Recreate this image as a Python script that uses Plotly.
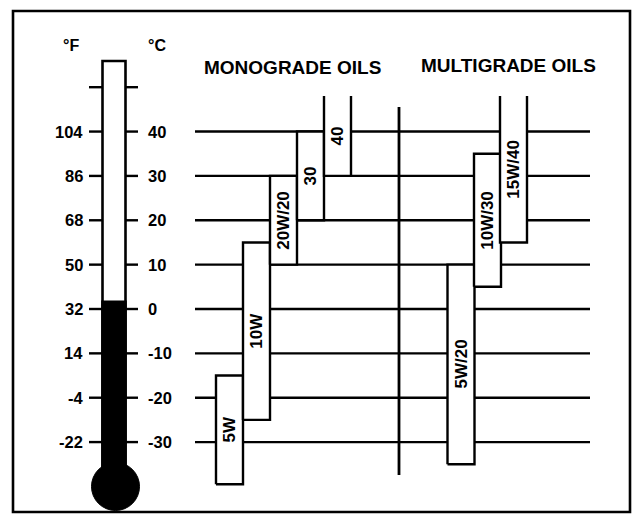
import plotly.graph_objects as go

# ---------------- data ----------------
celsius_ticks = [40, 30, 20, 10, 0, -10, -20, -30]
fahrenheit_labels = ["104", "86", "68", "50", "32", "14", "-4", "-22"]
celsius_labels = ["40", "30", "20", "10", "0", "-10", "-20", "-30"]
thermo_top_tick = 50          # unlabeled tick near top of tube
thermo_level = 1.6            # black column top (°C)

mono_grades = ["5W", "10W", "20W/20", "30", "40"]
mono_low = [-39.5, -25, 10, 20, 30]
mono_high = [-15, 15, 30, 40, None]   # None = open-ended (above chart)

multi_grades = ["5W/20", "10W/30", "15W/40"]
multi_low = [-35, 5, 15]
multi_high = [10, 35, None]

# ---------------- layout constants (pixel-like x, °C y) ----------------
W, H = 636, 516
PX_PER_DEG = 4.436
Y0 = 309.0  # pixel row of 0 °C
def t_at(py):
    return (Y0 - py) / PX_PER_DEG

Y_TOP, Y_BOT = t_at(0), t_at(H)
OPEN_TOP = t_at(96)
BOX_W = 27
mono_x = [229.5, 256.5, 283.5, 310.5, 337.5]
multi_x = [461, 487.5, 513.5]
GRID_X0, GRID_X1 = 195, 590
DIV_X = 399
LINE_W = 2.4
FONT = "Liberation Sans, Arial, sans-serif"

fig = go.Figure()

# horizontal grid lines
gx, gy = [], []
for t in celsius_ticks:
    gx += [GRID_X0, GRID_X1, None]
    gy += [t, t, None]
fig.add_trace(go.Scatter(x=gx, y=gy, mode="lines",
                         line=dict(color="black", width=LINE_W), hoverinfo="skip"))
# divider between monograde and multigrade
fig.add_trace(go.Scatter(x=[DIV_X, DIV_X], y=[t_at(107), t_at(475)], mode="lines",
                         line=dict(color="black", width=2.8), hoverinfo="skip"))

annotations = []

def add_box(xc, lo, hi, label):
    x0, x1 = xc - BOX_W / 2, xc + BOX_W / 2
    if hi is not None:
        fig.add_trace(go.Scatter(x=[x0, x1, x1, x0, x0], y=[lo, lo, hi, hi, lo],
                                 mode="lines", fill="toself", fillcolor="white",
                                 line=dict(color="black", width=LINE_W), hoverinfo="skip"))
        mid = (lo + hi) / 2
    else:
        top = OPEN_TOP
        fig.add_trace(go.Scatter(x=[x0, x1, x1, x0, x0], y=[lo, lo, top, top, lo],
                                 mode="lines", fill="toself", fillcolor="white",
                                 line=dict(color="rgba(0,0,0,0)", width=0), hoverinfo="skip"))
        fig.add_trace(go.Scatter(x=[x0, x0, x1, x1], y=[top, lo, lo, top],
                                 mode="lines", line=dict(color="black", width=LINE_W),
                                 hoverinfo="skip"))
        mid = (lo + top) / 2
    annotations.append(dict(x=xc, y=mid, xref="x", yref="y", text="<b>%s</b>" % label,
                            textangle=-90, showarrow=False,
                            font=dict(family=FONT, size=17, color="black")))

for xc, lo, hi, g in zip(mono_x, mono_low, mono_high, mono_grades):
    add_box(xc, lo, hi, g)
for xc, lo, hi, g in zip(multi_x, multi_low, multi_high, multi_grades):
    add_box(xc, lo, hi, g)

# thermometer
TUBE_X0, TUBE_X1 = 102.5, 125.5
BULB_CX, BULB_R = 115.5, 24
BULB_CY = t_at(486.5)
shapes = []
shapes.append(dict(type="rect", xref="x", yref="y", x0=TUBE_X0, x1=TUBE_X1,
                   y0=BULB_CY, y1=t_at(61), fillcolor="white",
                   line=dict(color="black", width=2.6), layer="below"))
shapes.append(dict(type="rect", xref="x", yref="y", x0=TUBE_X0, x1=TUBE_X1,
                   y0=BULB_CY, y1=thermo_level, fillcolor="black",
                   line=dict(color="black", width=2.6), layer="below"))
shapes.append(dict(type="circle", xref="x", yref="y",
                   x0=BULB_CX - BULB_R, x1=BULB_CX + BULB_R,
                   y0=BULB_CY - BULB_R / PX_PER_DEG, y1=BULB_CY + BULB_R / PX_PER_DEG,
                   fillcolor="black", line=dict(color="black", width=1), layer="below"))
# frame
shapes.append(dict(type="rect", xref="paper", yref="paper",
                   x0=13 / W, x1=630 / W, y0=1 - 512 / H, y1=1 - 11 / H,
                   line=dict(color="black", width=2.6), fillcolor="rgba(0,0,0,0)"))

# thermometer ticks
tx, ty = [], []
for t in celsius_ticks + [thermo_top_tick]:
    tx += [89, TUBE_X0, None, TUBE_X1, 138, None]
    ty += [t, t, None, t, t, None]
fig.add_trace(go.Scatter(x=tx, y=ty, mode="lines",
                         line=dict(color="black", width=LINE_W), hoverinfo="skip"))

for t, fl, cl in zip(celsius_ticks, fahrenheit_labels, celsius_labels):
    annotations.append(dict(x=85, y=t, xref="x", yref="y", text="<b>%s</b>" % fl,
                            xanchor="right", showarrow=False,
                            font=dict(family=FONT, size=16.5, color="black")))
    annotations.append(dict(x=146, y=t, xref="x", yref="y", text="<b>%s</b>" % cl,
                            xanchor="left", showarrow=False,
                            font=dict(family=FONT, size=16.5, color="black")))

annotations += [
    dict(x=71, y=t_at(45), xref="x", yref="y", text="<b>°F</b>", showarrow=False,
         font=dict(family=FONT, size=16, color="black")),
    dict(x=157, y=t_at(45), xref="x", yref="y", text="<b>°C</b>", showarrow=False,
         font=dict(family=FONT, size=16, color="black")),
    dict(x=292.5, y=t_at(67), xref="x", yref="y", text="<b>MONOGRADE OILS</b>",
         showarrow=False, font=dict(family=FONT, size=19, color="black")),
    dict(x=508, y=t_at(65), xref="x", yref="y", text="<b>MULTIGRADE OILS</b>",
         showarrow=False, font=dict(family=FONT, size=19, color="black")),
]

fig.update_layout(
    width=W, height=H, margin=dict(l=0, r=0, t=0, b=0),
    paper_bgcolor="white", plot_bgcolor="white", showlegend=False,
    xaxis=dict(range=[0, W], visible=False, fixedrange=True),
    yaxis=dict(range=[Y_BOT, Y_TOP], visible=False, fixedrange=True),
    shapes=shapes, annotations=annotations,
)
fig.write_html("out.html", config={"displayModeBar": False},
               post_script="document.body.style.margin='0';document.body.style.overflow='hidden';")
